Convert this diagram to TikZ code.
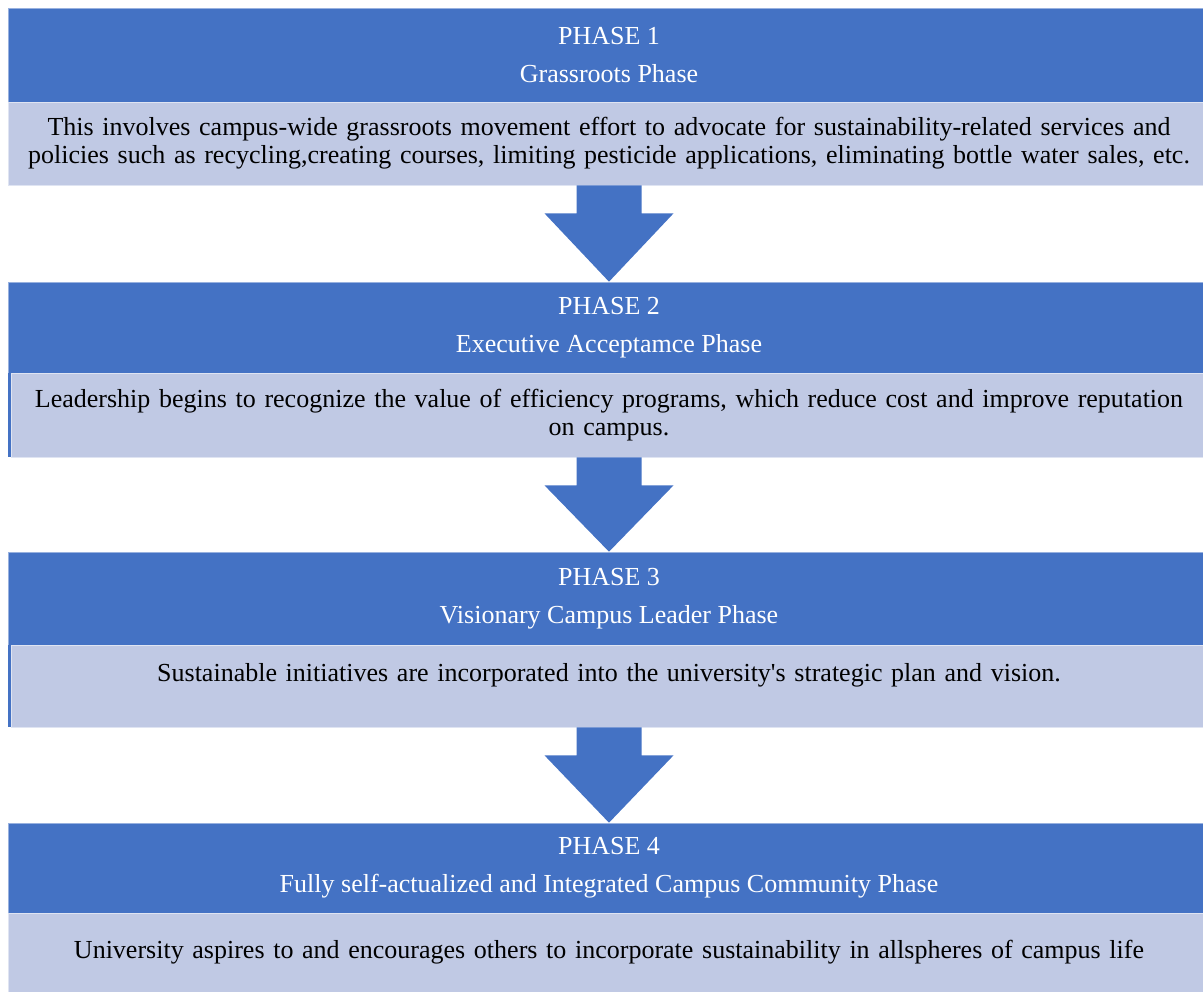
\documentclass[tikz,border=0pt]{standalone}
\usepackage{fontspec}
\setmainfont{Liberation Serif}
\usetikzlibrary{calc}
\definecolor{phaseblue}{RGB}{68,114,196}
\definecolor{phaselight}{RGB}{192,201,228}
\tikzstyle{head} = [rectangle,fill=phaseblue,draw=phaseblue!55!white,line width=0.6pt,inner sep=0pt,minimum width=1202pt,text=white,align=center,font=\fontsize{26}{38}\selectfont]
\tikzstyle{body} = [rectangle,fill=phaselight,draw=phaselight!50!white,line width=0.8pt,inner sep=0pt,text width=1195pt,align=center,font=\fontsize{26}{28}\selectfont]
\tikzstyle{blockarrow} = [fill=phaseblue]

\begin{document}
\begin{tikzpicture}[x=1pt,y=-1pt]
	\useasboundingbox (0,0) rectangle (1203,992);
	\node[head,minimum height=94pt] (h1) at (609, 55) {PHASE 1\\Grassroots Phase};
	\node[body,minimum width=1202pt,minimum height=83pt] (b1) at (609, 143.5) {This involves campus-wide grassroots movement effort to advocate for sustainability-related services and\\policies such as recycling,creating courses, limiting pesticide applications, eliminating bottle water sales, etc.};
	\node[head,minimum height=91pt] (h2) at (609, 327.5) {PHASE 2\\Executive Acceptamce Phase};
	\node[body,minimum width=1194pt,minimum height=84pt] (b2) at (609, 415) {Leadership begins to recognize the value of efficiency programs, which reduce cost and improve reputation\\on campus.};
	\node[head,minimum height=93pt] (h3) at (609, 598.5) {PHASE 3\\Visionary Campus Leader Phase};
	\node[body,minimum width=1194pt,minimum height=82pt] (b3) at (609, 686) {Sustainable initiatives are incorporated into the university\textquotesingle s strategic plan and vision.\\~};
	\node[head,minimum height=90pt] (h4) at (609, 868) {PHASE 4\\Fully self-actualized and Integrated Campus Community Phase};
	\node[body,minimum width=1202pt,minimum height=79pt] (b4) at (609, 952.5) {University aspires to and encourages others to incorporate sustainability in allspheres of campus life};

	\fill[phaseblue] (h2.south west) rectangle (b2.south west);
	\fill[phaseblue] (h3.south west) rectangle (b3.south west);

	\foreach \source/ \dest in {b1/h2, b2/h3, b3/h4}
	{
		\path (\source.south) ++(0,28) coordinate (neck);
		\fill[blockarrow] ($(\source.south)+(-32.5,0)$) -- ($(\source.south)+(32.5,0)$) -- ($(neck)+(32.5,0)$) -- ($(neck)+(64.5,0)$) -- (\dest.north) -- ($(neck)+(-64.5,0)$) -- ($(neck)+(-32.5,0)$) -- cycle;
	}
\end{tikzpicture}
\end{document}
